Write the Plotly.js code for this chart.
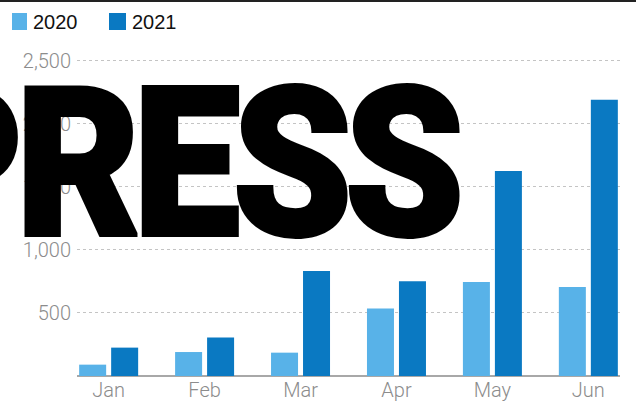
<!DOCTYPE html>
<html>
<head>
<meta charset="utf-8">
<script src="https://cdn.plot.ly/plotly-3.0.1.min.js"></script>
<style>
  html, body { margin: 0; padding: 0; background: #fff; }
  #chart { width: 636px; height: 401px; }
</style>
</head>
<body>
<div id="chart"></div>
<script>
const months = ['Jan', 'Feb', 'Mar', 'Apr', 'May', 'Jun'];
const seriesNames = ['2020', '2021'];
const values2020 = [90, 190, 185, 535, 745, 705];
const values2021 = [225, 305, 833, 752, 1625, 2190];
const yTickVals = [500, 1000, 1500, 2000, 2500];
const yTickText = ['500', '1,000', '1,500', '2,000', '2,500'];
const overlayText = 'PRESS';

const colors = ['#58b2e8', '#0a79c2'];

const W = 636, H = 401;
const M = { l: 77, r: 16, t: 48, b: 25 };
const PW = W - M.l - M.r, PH = H - M.t - M.b;
const px = x => (x - M.l) / PW;           // pixel -> paper x
const py = y => (H - M.b - y) / PH;       // pixel -> paper y

const traces = [
  { type: 'bar', name: seriesNames[0], x: months, y: values2020,
    marker: { color: colors[0] }, hoverinfo: 'none' },
  { type: 'bar', name: seriesNames[1], x: months, y: values2021,
    marker: { color: colors[1] }, hoverinfo: 'none' }
];

const tickFont = { family: 'Roboto, "Liberation Sans", sans-serif', size: 20, color: '#8c8c8c', weight: 300 };

const layout = {
  width: W, height: H,
  margin: M,
  paper_bgcolor: '#ffffff',
  plot_bgcolor: '#ffffff',
  showlegend: false,
  barmode: 'group',
  bargap: 0.333,
  bargroupgap: 0.156,
  xaxis: {
    type: 'category',
    range: [-0.33, 5.33],
    showgrid: false,
    showline: false,
    zeroline: false,
    ticks: '',
    tickfont: tickFont,
    fixedrange: true
  },
  yaxis: {
    range: [0, 2600],
    tickvals: yTickVals,
    ticktext: yTickText,
    showgrid: true,
    gridcolor: '#c4c4c4',
    gridwidth: 1,
    griddash: '3px,3px',
    zeroline: true,
    zerolinecolor: '#a8a8a8',
    zerolinewidth: 2,
    showline: false,
    ticks: '',
    ticklabelstandoff: 5,
    tickfont: tickFont,
    fixedrange: true
  },
  shapes: [
    { type: 'line', xref: 'paper', yref: 'paper', x0: px(-5), x1: px(W + 5), y0: py(1), y1: py(1),
      line: { color: '#222222', width: 2 } },
    { type: 'rect', xref: 'paper', yref: 'paper', x0: px(12), x1: px(27), y0: py(30), y1: py(13),
      fillcolor: colors[0], line: { width: 0 } },
    { type: 'rect', xref: 'paper', yref: 'paper', x0: px(109), x1: px(126), y0: py(30), y1: py(13),
      fillcolor: colors[1], line: { width: 0 } }
  ],
  annotations: [
    { xref: 'paper', yref: 'paper', x: px(31), y: py(22), xanchor: 'left', yanchor: 'middle',
      text: seriesNames[0], showarrow: false,
      font: { family: '"Liberation Sans", Arial, sans-serif', size: 20, color: '#111' } },
    { xref: 'paper', yref: 'paper', x: px(130), y: py(22), xanchor: 'left', yanchor: 'middle',
      text: seriesNames[1], showarrow: false,
      font: { family: '"Liberation Sans", Arial, sans-serif', size: 20, color: '#111' } },
    { xref: 'paper', yref: 'paper', x: px(460), y: py(164), xanchor: 'right', yanchor: 'middle',
      text: overlayText, showarrow: false, name: 'overlay',
      font: { family: 'Roboto, Inter, "Liberation Sans", sans-serif', size: 208, color: '#000', weight: 900 } }
  ]
};

Plotly.newPlot('chart', traces, layout, { staticPlot: true, displayModeBar: false }).then(gd => {
  // tighten and compress the overlay word to match its condensed heavy look
  const texts = gd.querySelectorAll('text.annotation-text');
  texts.forEach(t => {
    if (t.textContent !== overlayText) return;
    t.style.letterSpacing = '-8px';
    t.setAttribute('stroke', '#000');
    t.setAttribute('stroke-width', '4');
    t.setAttribute('stroke-linejoin', 'miter');
    const b = t.getBBox();
    const r = t.getBoundingClientRect();
    const dx = r.left - b.x;
    const eR = t.getExtentOfChar(1);
    const eS = t.getExtentOfChar(overlayText.length - 1);
    const a0 = eR.x + 12, a1 = eS.x + eS.width;
    const L = 27 - dx, R = 457 - dx;
    const sx = (R - L) / (a1 - a0);
    const tx = L - a0 * sx;
    t.setAttribute('transform', 'matrix(' + sx + ',0,0,1,' + tx + ',0)');
  });
});
</script>
</body>
</html>
